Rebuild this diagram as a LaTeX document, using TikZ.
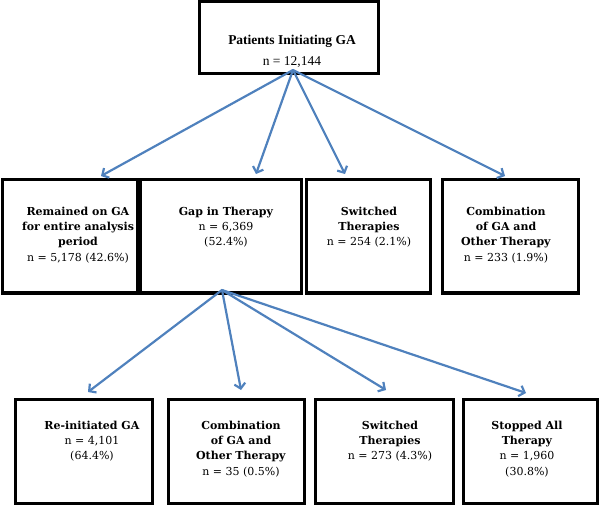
\documentclass[tikz,border=0pt]{standalone}
\usepackage{fontspec}
\setmainfont{Liberation Serif}
\newfontfamily\boxfont{DejaVu Serif}
\usetikzlibrary{arrows.meta}
\definecolor{arrblue}{RGB}{79,129,189}
\tikzset{
  box/.style={draw=black, line width=3pt, inner sep=0pt, outer sep=0pt, fill=white},
  txt/.style={align=center, inner sep=0pt, font=\boxfont\fontsize{11}{15.2}\selectfont},
  toptxt/.style={align=center, inner sep=0pt, font=\fontsize{13.5}{21}\selectfont},
  arr/.style={draw=arrblue, line width=2.2pt, line cap=round, -{Straight Barb[length=5pt,width=11pt,line width=2.2pt]}}
}
\begin{document}
\begin{tikzpicture}[x=1pt,y=-1pt]
\useasboundingbox (0,0) rectangle (600,505);
% boxes
\node[box, anchor=north west, minimum width=179pt, minimum height=72pt] (top) at (199,1.5) {};
\node[box, anchor=north west, minimum width=135pt, minimum height=113pt] (m1) at (2,180) {};
\node[box, anchor=north west, minimum width=161pt, minimum height=113pt] (m2) at (140,180) {};
\node[box, anchor=north west, minimum width=124pt, minimum height=113pt] (m3) at (306,180) {};
\node[box, anchor=north west, minimum width=136pt, minimum height=113pt] (m4) at (442,180) {};
\node[box, anchor=north west, minimum width=137pt, minimum height=104pt] (b1) at (15,399) {};
\node[box, anchor=north west, minimum width=136pt, minimum height=104pt] (b2) at (168,399) {};
\node[box, anchor=north west, minimum width=138pt, minimum height=104pt] (b3) at (315,399) {};
\node[box, anchor=north west, minimum width=134pt, minimum height=104pt] (b4) at (463,399) {};
% texts
\node[toptxt, anchor=north] (ttop) at (292,35) {\textbf{Patients Initiating GA}\\n = 12,144};
\node[txt, anchor=north] (tm1) at (78,207) {\textbf{Remained on GA}\\\textbf{for entire analysis}\\\textbf{period}\\n = 5,178 (42.6\%)};
\node[txt, anchor=north] (tm2) at (226,207) {\textbf{Gap in Therapy}\\n = 6,369\\(52.4\%)};
\node[txt, anchor=north] (tm3) at (369,207) {\textbf{Switched}\\\textbf{Therapies}\\n = 254 (2.1\%)};
\node[txt, anchor=north] (tm4) at (506,207) {\textbf{Combination}\\\textbf{of GA and}\\\textbf{Other Therapy}\\n = 233 (1.9\%)};
\node[txt, anchor=north] (tb1) at (92,421) {\textbf{Re-initiated GA}\\n = 4,101\\(64.4\%)};
\node[txt, anchor=north] (tb2) at (241,421) {\textbf{Combination}\\\textbf{of GA and}\\\textbf{Other Therapy}\\n = 35 (0.5\%)};
\node[txt, anchor=north] (tb3) at (390,421) {\textbf{Switched}\\\textbf{Therapies}\\n = 273 (4.3\%)};
\node[txt, anchor=north] (tb4) at (527,421) {\textbf{Stopped All}\\\textbf{Therapy}\\n = 1,960\\(30.8\%)};
% arrow coordinates
\coordinate (s1) at (293,70);
\coordinate (e11) at (101,176);
\coordinate (e12) at (256,174);
\coordinate (e13) at (345,174);
\coordinate (e14) at (505,176);
\coordinate (s2) at (222,290);
\coordinate (e21) at (88,392);
\coordinate (e22) at (241,390);
\coordinate (e23) at (386,390);
\coordinate (e24) at (526,393);
\draw[arr] (s1) -- (e11);
\draw[arr] (s1) -- (e12);
\draw[arr] (s1) -- (e13);
\draw[arr] (s1) -- (e14);
\draw[arr] (s2) -- (e21);
\draw[arr] (s2) -- (e22);
\draw[arr] (s2) -- (e23);
\draw[arr] (s2) -- (e24);
\end{tikzpicture}
\end{document}
